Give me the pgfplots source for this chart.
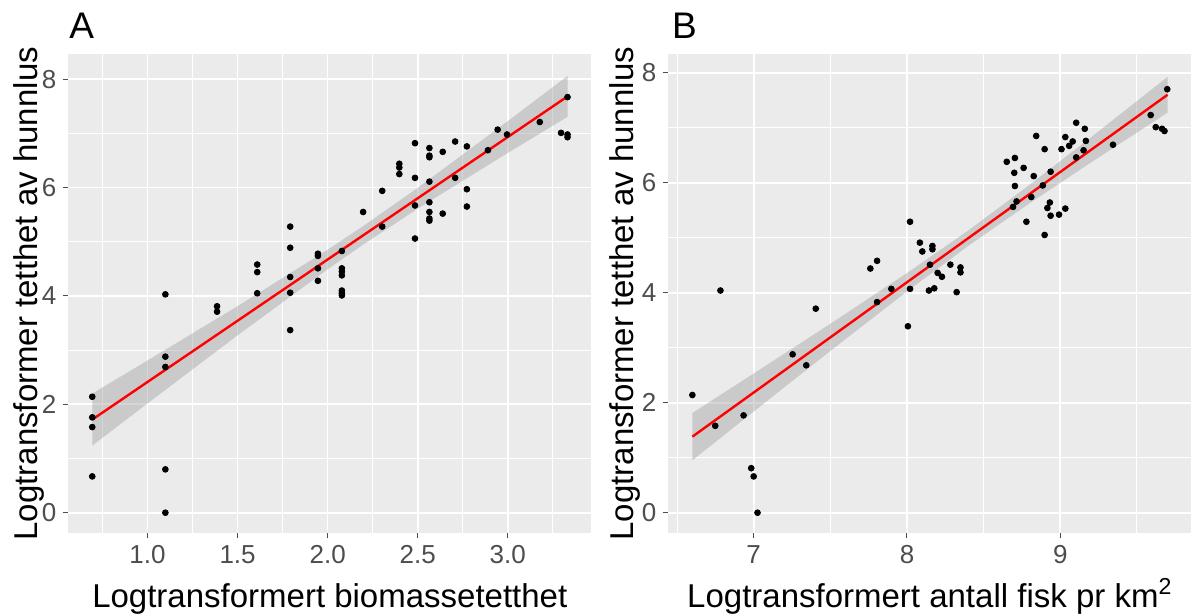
\documentclass[border=0pt]{standalone}
\usepackage{fontspec}
\setmainfont{Liberation Sans}
\usepackage{pgfplots}
\usepackage{pgfplotstable}
\pgfplotsset{compat=1.18}

\definecolor{panelbg}{RGB}{235,235,235}
\definecolor{tickgray}{RGB}{77,77,77}
\definecolor{bandgray}{RGB}{153,153,153}

\pgfplotstableread{
x y
0.693 2.14
0.693 1.76
0.693 1.58
0.693 0.67
1.099 4.03
1.099 2.88
1.099 2.69
1.099 0.80
1.099 0.00
1.386 3.81
1.386 3.71
1.609 4.58
1.609 4.44
1.609 4.05
1.792 5.28
1.792 4.89
1.792 4.35
1.792 4.06
1.792 3.37
1.946 4.78
1.946 4.74
1.946 4.51
1.946 4.28
2.079 4.83
2.079 4.51
2.079 4.45
2.079 4.38
2.079 4.10
2.079 4.05
2.079 4.01
2.197 5.55
2.303 5.94
2.303 5.28
2.398 6.44
2.398 6.37
2.398 6.25
2.485 6.82
2.485 6.18
2.485 5.67
2.485 5.06
2.565 6.73
2.565 6.59
2.565 6.56
2.565 6.11
2.565 5.73
2.565 5.55
2.565 5.43
2.565 5.39
2.639 6.66
2.639 5.52
2.708 6.85
2.708 6.18
2.773 6.76
2.773 5.97
2.773 5.65
2.890 6.69
2.944 7.07
2.996 6.98
3.178 7.21
3.296 7.01
3.332 6.98
3.332 6.93
3.332 7.67
}\pointsA

% fitted line, panel A
\pgfplotstableread{
x y
0.693 1.719
1.000 2.413
1.500 3.543
2.000 4.673
2.200 5.125
2.500 5.803
3.000 6.933
3.332 7.683
}\fitA

% confidence band outline, panel A (upper edge then lower edge back)
\pgfplotstableread{
x y
0.693 2.199
1.000 2.809
1.500 3.812
2.000 4.853
2.200 5.295
2.500 5.995
3.000 7.226
3.332 8.060
3.332 7.306
3.000 6.640
2.500 5.611
2.200 4.955
2.000 4.493
1.500 3.274
1.000 2.017
0.693 1.239
}\bandA

\pgfplotstableread{
x y
6.600 2.14
6.749 1.58
6.783 4.04
6.934 1.77
6.984 0.81
7.000 0.66
7.025 0.00
7.254 2.88
7.343 2.68
7.405 3.71
7.761 4.44
7.805 4.58
7.805 3.83
7.898 4.07
8.006 3.39
8.020 5.29
8.020 4.07
8.084 4.91
8.100 4.75
8.166 4.85
8.166 4.79
8.150 4.51
8.143 4.04
8.178 4.08
8.200 4.36
8.228 4.29
8.283 4.51
8.324 4.01
8.349 4.46
8.349 4.37
8.651 6.38
8.704 6.45
8.700 6.18
8.704 5.94
8.715 5.66
8.692 5.56
8.761 6.27
8.779 5.29
8.811 5.74
8.827 6.12
8.843 6.85
8.898 6.61
8.886 5.95
8.898 5.05
8.937 6.20
8.916 5.54
8.932 5.64
8.937 5.40
8.992 5.42
9.033 5.53
9.008 6.61
9.033 6.83
9.058 6.67
9.081 6.75
9.104 7.09
9.104 6.46
9.160 6.98
9.167 6.76
9.152 6.59
9.344 6.69
9.590 7.23
9.623 7.01
9.664 6.98
9.680 6.94
9.698 7.70
}\pointsB

\pgfplotstableread{
x y
6.600 1.383
7.000 2.185
7.500 3.188
8.000 4.190
8.400 4.992
8.800 5.794
9.200 6.596
9.700 7.599
}\fitB

\pgfplotstableread{
x y
6.600 1.813
7.000 2.531
7.500 3.435
8.000 4.357
8.400 5.132
8.800 5.961
9.200 6.825
9.700 7.924
9.700 7.274
9.200 6.367
8.800 5.627
8.400 4.852
8.000 4.023
7.500 2.941
7.000 1.839
6.600 0.953
}\bandB

\pgfplotsset{
  ggpanel/.style={
    scale only axis,
    width=261.5pt,
    height=239.5pt,
    axis background/.style={fill=panelbg},
    axis line style={draw=none},
    grid=both,
    major grid style={white, line width=0.85pt},
    minor grid style={white, line width=0.45pt},
    xtick pos=bottom,
    ytick pos=left,
    tick align=outside,
    major tick length=2.5pt,
    minor tick length=0pt,
    tick style={tickgray, line width=0.5pt},
    ticklabel style={font=\fontsize{13}{15}\selectfont, text=tickgray},
    /pgf/number format/assume math mode=true,
    label style={font=\fontsize{16.5}{19}\selectfont},
    ytick={0,2,4,6,8},
    minor ytick={1,3,5,7},
    scaled ticks=false,
  },
}

\begin{document}
\begin{tikzpicture}

\begin{axis}[ggpanel,
  at={(34.15pt,40.35pt)}, anchor=south west,
  xmin=0.560, xmax=3.464, ymin=-0.38, ymax=8.46,
  xtick={1,1.5,2,2.5,3},
  xticklabels={1.0,1.5,2.0,2.5,3.0},
  minor xtick={0.75,1.25,1.75,2.25,2.75,3.25},
  xlabel={Logtransformert biomassetetthet},
  ylabel={Logtransformer tetthet av hunnlus},
  xlabel style={at={(axis description cs:0.5,-0.1539)}, anchor=base},
  ylabel style={at={(axis description cs:-0.0598,0.5)}, anchor=base},
]
\addplot[only marks, mark=*, mark size=1.45pt, black] table[x=x,y=y] {\pointsA};
\addplot[draw=none, fill=bandgray, fill opacity=0.4] table[x=x,y=y] {\bandA};
\addplot[red, line width=1.2pt] table[x=x,y=y] {\fitA};
\end{axis}

\begin{axis}[ggpanel,
  at={(334.15pt,40.35pt)}, anchor=south west,
  xmin=6.443, xmax=9.855, ymin=-0.374, ymax=8.335,
  xtick={7,8,9},
  minor xtick={6.5,7.5,8.5,9.5},
  xlabel={Logtransformert antall fisk pr km\textsuperscript{2}},
  ylabel={Logtransformer tetthet av hunnlus},
  xlabel style={at={(axis description cs:0.5,-0.1539)}, anchor=base},
  ylabel style={at={(axis description cs:-0.0675,0.5)}, anchor=base},
]
\addplot[only marks, mark=*, mark size=1.45pt, black] table[x=x,y=y] {\pointsB};
\addplot[draw=none, fill=bandgray, fill opacity=0.4] table[x=x,y=y] {\bandB};
\addplot[red, line width=1.2pt] table[x=x,y=y] {\fitB};
\end{axis}

\node[anchor=base west, inner sep=0pt, font=\fontsize{18.5}{20}\selectfont] at (34.5pt,287.85pt) {A};
\node[anchor=base west, inner sep=0pt, font=\fontsize{18.5}{20}\selectfont] at (335.8pt,287.85pt) {B};

\pgfresetboundingbox
\path[use as bounding box] (0,0) rectangle (596pt,307pt);
\end{tikzpicture}
\end{document}
